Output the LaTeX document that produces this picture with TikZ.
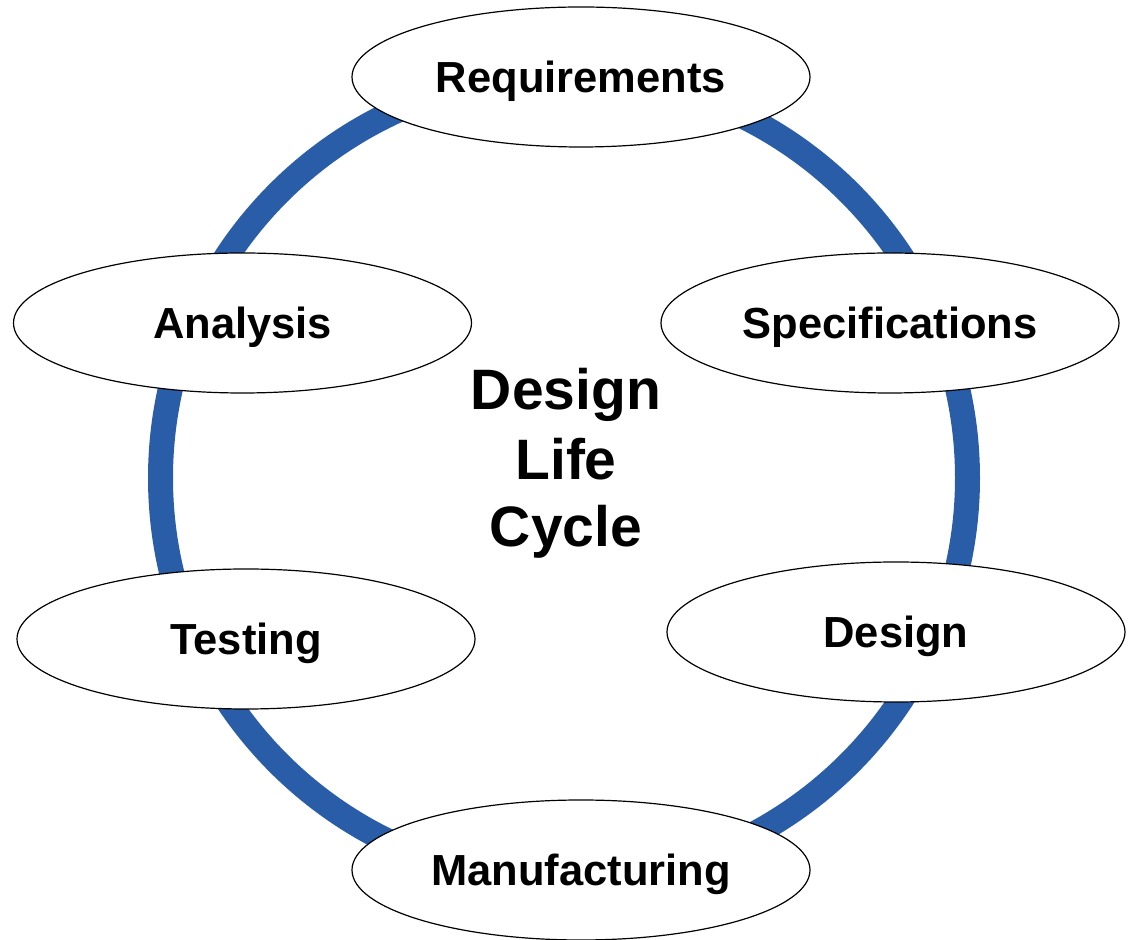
\documentclass[tikz,border=0pt]{standalone}
\usepackage{fontspec}
\setmainfont{Liberation Sans}
\usetikzlibrary{shapes.geometric}
\definecolor{ringblue}{RGB}{42,93,168}
\tikzset{
  phase/.style={ellipse, draw=black, line width=1.2pt, fill=white,
    minimum width=458pt, minimum height=140pt, inner sep=0pt,
    font=\fontsize{43.5}{52}\selectfont\bfseries, text height=31pt, text depth=0pt},
  titletext/.style={anchor=base, inner sep=0pt, font=\fontsize{57}{68}\selectfont\bfseries}
}
\begin{document}
\begin{tikzpicture}[x=1pt,y=1pt]
\useasboundingbox (0,0) rectangle (1128,940);
\coordinate (c) at (564,462);
\draw[ringblue, line width=25pt] (c) circle[radius=403.5];
\node[phase] (req) at (581,863) {Requirements};
\node[phase] (spec) at (890,617) {Specifications};
\node[phase] (anal) at (242.5,617) {Analysis};
\node[phase] (des) at (896,308) {Design};
\node[phase] (test) at (246,301) {Testing};
\node[phase] (manu) at (581,70) {Manufacturing};
\node[titletext] (t1) at (566,530) {Design};
\node[titletext] (t2) at (566,460) {Life};
\node[titletext] (t3) at (566,393) {Cycle};
\end{tikzpicture}
\end{document}
